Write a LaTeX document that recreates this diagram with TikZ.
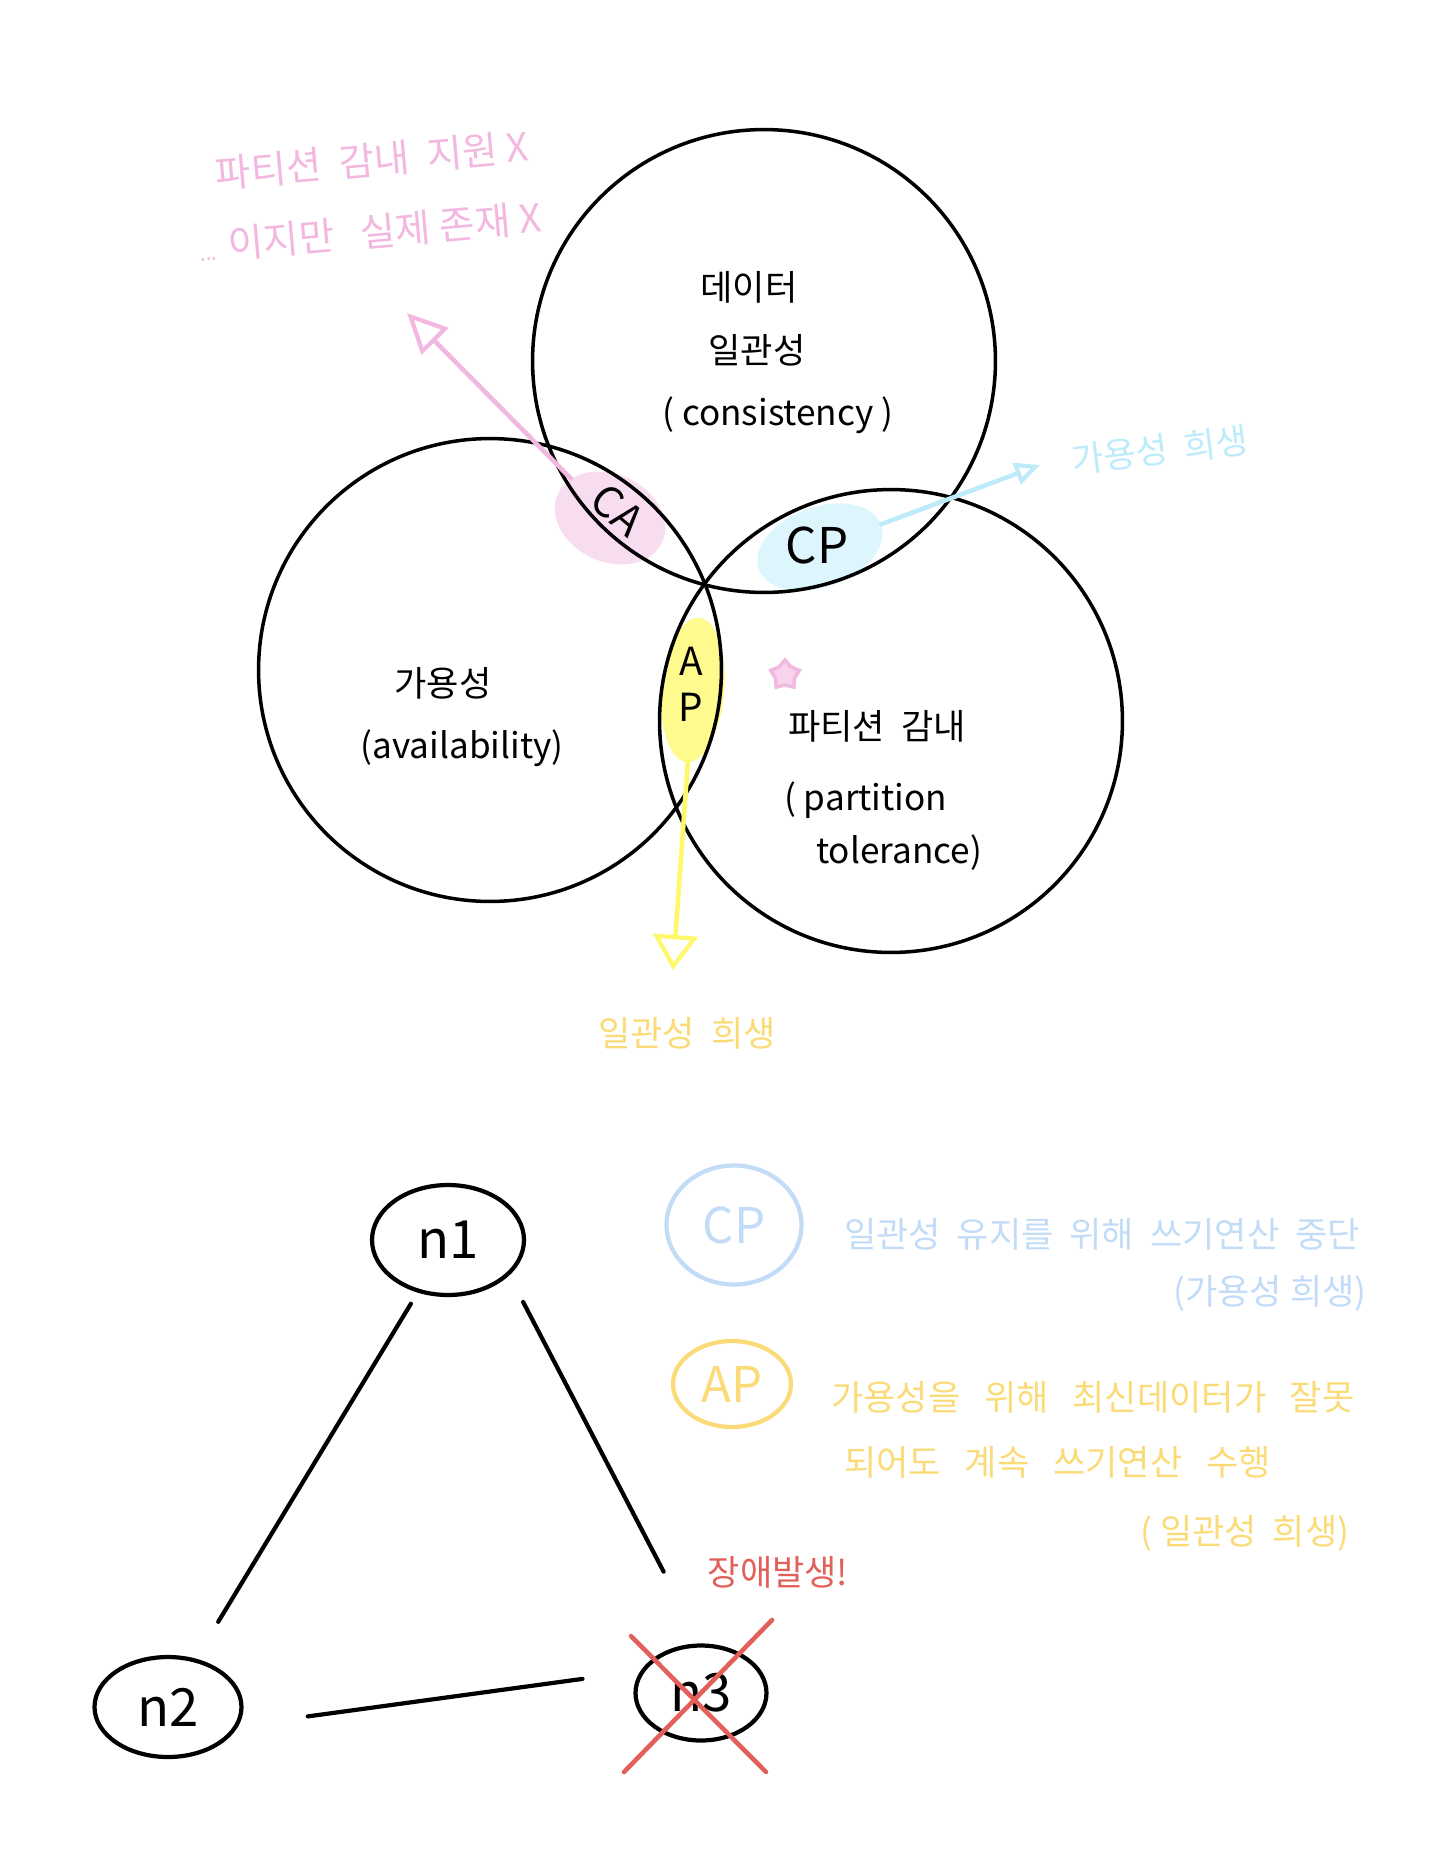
\documentclass[tikz,border=0pt]{standalone}
\usepackage{fontspec}
\setmainfont{Noto Sans CJK KR}
\usetikzlibrary{shapes.geometric,arrows.meta}

\definecolor{capink}{HTML}{F2B8E0}
\definecolor{capinkfill}{HTML}{F8DDF1}
\definecolor{cpblue}{HTML}{BDEBFA}
\definecolor{cpbluefill}{HTML}{DDF5FC}
\definecolor{apyellow}{HTML}{FFF86A}
\definecolor{apfill}{HTML}{FFFA8E}
\definecolor{apgold}{HTML}{FADB78}
\definecolor{cpkeyblue}{HTML}{C2DCF8}
\definecolor{failred}{HTML}{E2605A}

\begin{document}
\begin{tikzpicture}[x=0.02cm, y=-0.02cm,
  setcircle/.style={shape=circle, draw, line width=2pt, minimum size=9.26cm, inner sep=0pt},
  blob/.style={shape=ellipse, inner sep=0pt},
  big/.style={font=\fontsize{20}{24}\selectfont},
  eng/.style={font=\fontsize{20}{24}\selectfont},
  note/.style={font=\fontsize{20}{24}\selectfont},
  server/.style={shape=ellipse, draw, line width=2.4pt, inner sep=0pt, font=\fontsize{30}{36}\selectfont},
  wire/.style={line width=2.4pt, line cap=round},
  pen/.style={line width=2.6pt, line cap=round, line join=round}]
\useasboundingbox (0,0) rectangle (1434,1856);

% highlighted overlaps
\node[blob, fill=capinkfill, minimum width=2.3cm, minimum height=1.75cm, rotate=-25] (ca) at (610,518) {};
\node[blob, fill=cpbluefill, minimum width=2.6cm, minimum height=1.6cm, rotate=20] (cp) at (820,547) {};
\node[blob, fill=apfill, minimum width=1.25cm, minimum height=2.9cm, rotate=-5] (ap) at (693,690) {};

\node[setcircle] (cons) at (764,361) {};
\node[setcircle] (avail) at (490,670) {};
\node[setcircle] (part) at (891,721) {};

\node[big] (cons1) at (749,287) {데이터};
\node[big] (cons2) at (757,350) {일관성};
\node[eng] (cons3) at (778,415) {(\ consistency\ )};
\node[big] (avail1) at (443,683) {가용성};
\node[eng] (avail2) at (462,748) {(availability)};
\node[big] (part1) at (877,726) {파티션\ \ 감내};
\node[eng, anchor=west] (part2) at (778,800) {(\ partition};
\node[eng, anchor=west] (part3) at (810,853) {tolerance)};

\node[rotate=-40, font=\fontsize{24}{28}\selectfont] (calabel) at (618,510) {CA};
\node[font=\fontsize{28}{32}\selectfont] (cplabel) at (817,545) {CP};
\node[align=center, font=\fontsize{22}{26}\selectfont] (aplabel) at (691,684) {A\\P};

% arrows out of the overlaps
\coordinate (catip) at (407,313);
\coordinate (cptip) at (1040,465);
\coordinate (aptip) at (673,970);
\draw[pen, capink, -{Triangle[open, length=0.8cm, width=0.75cm, line width=2.4pt]}] (ca) -- (catip);
\draw[pen, cpblue, -{Triangle[open, length=0.5cm, width=0.45cm, line width=2.4pt]}] (cp) -- (cptip);
\draw[pen, apyellow, -{Triangle[open, length=0.7cm, width=0.9cm, line width=2.4pt]}] (ap) -- (aptip);

\node[note, text=capink, rotate=5, font=\fontsize{22}{26}\selectfont] (canote1) at (372,160) {파티션\ \ 감내\ \ 지원 X};
\node[note, text=capink, rotate=5, font=\fontsize{22}{26}\selectfont] (canote2) at (370,232) {{\fontsize{12}{14}\selectfont ...} 이지만\ \ \ 실제\ 존재 X};
\node[note, text=cpblue, rotate=7] (cpnote) at (1160,450) {가용성\ \ 희생};
\node[note, text=apgold] (apnote) at (687,1033) {일관성\ \ 희생};
\node[star, star points=5, draw=capink, fill=capink!60, line width=2pt, minimum size=0.6cm, inner sep=0pt] (mark) at (785,675) {};

% servers
\node[server, minimum width=3.04cm, minimum height=2.2cm] (n1) at (448,1240) {n1};
\node[server, minimum width=2.94cm, minimum height=2cm] (n2) at (168,1707) {n2};
\node[server, minimum width=2.62cm, minimum height=1.9cm] (n3) at (701,1693) {n3};
\draw[wire, shorten <=0.26cm, shorten >=0.86cm] (n1.-120) -- (n2.60);
\draw[wire, shorten <=0.6cm, shorten >=1.62cm] (n1.-30) -- (n3.north);
\draw[wire, shorten <=1.4cm, shorten >=1.17cm] (n2.-15) -- (n3.160);

\coordinate (xa) at (631,1636);
\coordinate (xb) at (766,1772);
\coordinate (xc) at (772,1620);
\coordinate (xd) at (624,1772);
\draw[pen, failred] (xa) -- (xb);
\draw[pen, failred] (xc) -- (xd);
\node[note, text=failred] (fail) at (778,1572) {장애발생!};

% legend
\node[shape=ellipse, draw=cpkeyblue, line width=2.4pt, minimum width=2.7cm, minimum height=2.38cm, text=cpkeyblue, font=\fontsize{28}{32}\selectfont] (cpkey) at (734,1225) {CP};
\node[note, text=cpkeyblue, anchor=west] (cpkey1) at (838,1234) {일관성\ \ 유지를\ \ 위해\ \ 쓰기연산\ \ 중단};
\node[note, text=cpkeyblue] (cpkey2) at (1270,1293) {(가용성 희생)};
\node[shape=ellipse, draw=apgold, line width=2.4pt, minimum width=2.36cm, minimum height=1.72cm, text=apgold, font=\fontsize{28}{32}\selectfont] (apkey) at (732,1384) {AP};
\node[note, text=apgold, anchor=west] (apkey1) at (825,1397) {가용성을\ \ \ 위해\ \ \ 최신데이터가\ \ \ 잘못};
\node[note, text=apgold, anchor=west] (apkey2) at (838,1462) {되어도\ \ \ 계속\ \ \ 쓰기연산\ \ \ 수행};
\node[note, text=apgold] (apkey3) at (1245,1533) {(\ 일관성\ \ 희생)};
\end{tikzpicture}
\end{document}
